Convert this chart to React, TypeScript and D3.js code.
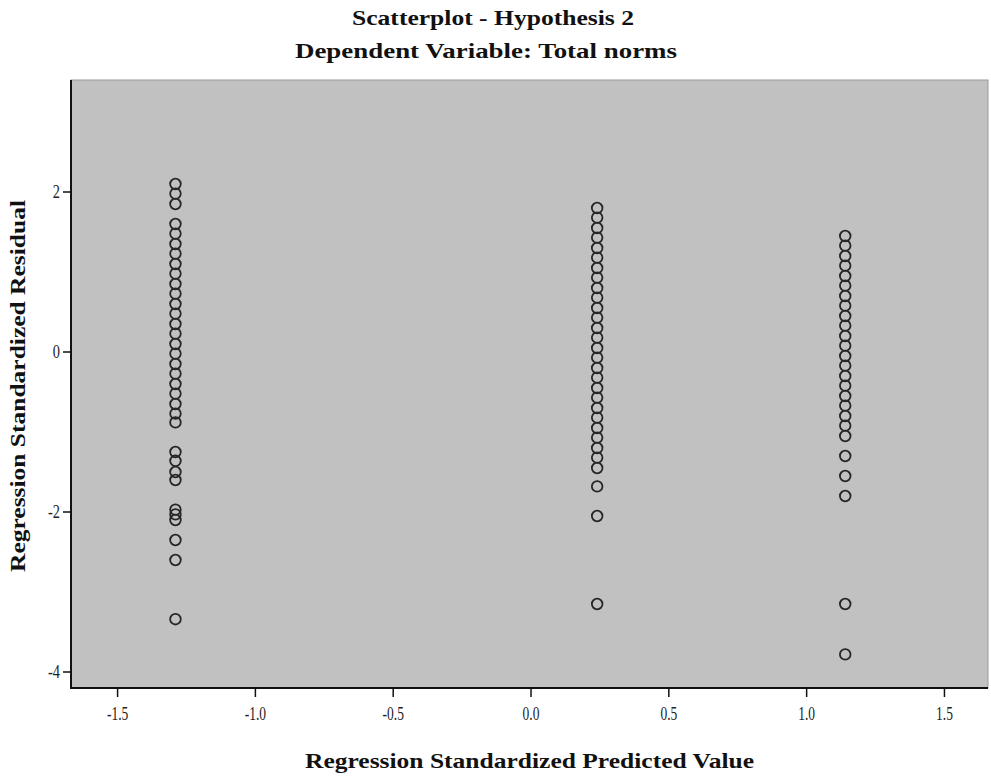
import React from "react";
import * as d3 from "d3";

const titleText = "Scatterplot - Hypothesis 2";
const subtitleText = "Dependent Variable: Total norms";
const xAxisTitle = "Regression Standardized Predicted Value";
const yAxisTitle = "Regression Standardized Residual";

const xTicks = [-1.5, -1.0, -0.5, 0.0, 0.5, 1.0, 1.5];
const yTicks = [-4, -2, 0, 2];

const predictedValues = [-1.29, 0.24, 1.14];

const leftResiduals = [
  2.1, 1.98, 1.85, 1.6, 1.48, 1.35, 1.23, 1.1, 0.98, 0.85, 0.73, 0.6, 0.48, 0.35,
  0.23, 0.1, -0.02, -0.15, -0.27, -0.4, -0.52, -0.65, -0.77, -0.88, -1.25, -1.36,
  -1.5, -1.6, -1.97, -2.03, -2.1, -2.35, -2.6, -3.34,
];
const middleResiduals = [
  1.8, 1.68, 1.55, 1.43, 1.3, 1.18, 1.05, 0.93, 0.8, 0.68, 0.55, 0.43, 0.3, 0.18,
  0.05, -0.07, -0.2, -0.32, -0.45, -0.57, -0.7, -0.82, -0.95, -1.07, -1.2, -1.32,
  -1.45, -1.68, -2.05, -3.15,
];
const rightResiduals = [
  1.45, 1.33, 1.2, 1.08, 0.95, 0.83, 0.7, 0.58, 0.45, 0.33, 0.2, 0.08, -0.05,
  -0.17, -0.3, -0.42, -0.55, -0.67, -0.8, -0.92, -1.05, -1.3, -1.55, -1.8, -3.15,
  -3.78,
];

const residualGroups = [leftResiduals, middleResiduals, rightResiduals];

const W = 991;
const H = 776;
const plot = { left: 71, right: 988, top: 80, bottom: 688 };

const hyphen = (s: string) => s.replace("\u2212", "-");

export default function App() {
  const x = d3.scaleLinear().domain([-1.669, 1.658]).range([plot.left, plot.right]);
  const y = d3.scaleLinear().domain([-4.2, 3.4]).range([plot.bottom, plot.top]);

  const points = residualGroups.flatMap((g, i) =>
    g.map((r) => ({ px: predictedValues[i], r }))
  );

  const serif = "'Liberation Serif', 'Times New Roman', serif";
  const fmtX = (t: number) => hyphen(d3.format(".1f")(t));
  const fmtY = (t: number) => hyphen(d3.format("d")(t));

  return (
    <svg
      width={W}
      height={H}
      style={{ position: "absolute", left: 0, top: 0, background: "#fff" }}
      fontFamily={serif}
    >
      <defs>
        <filter id="soft" x="-20%" y="-20%" width="140%" height="140%">
          <feGaussianBlur stdDeviation="0.45" />
        </filter>
      </defs>
      <rect x={0} y={0} width={W} height={H} fill="#fff" />
      <text
        x={493}
        y={25}
        textAnchor="middle"
        fontSize={22}
        fontWeight="bold"
        textLength={282}
        lengthAdjust="spacingAndGlyphs"
        fill="#111"
      >
        {titleText}
      </text>
      <text
        x={486}
        y={58}
        textAnchor="middle"
        fontSize={22}
        fontWeight="bold"
        textLength={382}
        lengthAdjust="spacingAndGlyphs"
        fill="#111"
      >
        {subtitleText}
      </text>

      <rect
        x={plot.left}
        y={plot.top}
        width={plot.right - plot.left}
        height={plot.bottom - plot.top}
        fill="#c1c1c1"
        stroke="#9a9a9a"
        strokeWidth={1}
      />

      <g filter="url(#soft)">
        {points.map((p, i) => (
          <circle
            key={i}
            cx={x(p.px)}
            cy={y(p.r)}
            r={5.3}
            fill="none"
            stroke="#262626"
            strokeWidth={1.8}
          />
        ))}
      </g>

      <line x1={plot.left} y1={plot.top} x2={plot.left} y2={plot.bottom + 1} stroke="#111" strokeWidth={2} />
      <line x1={plot.left - 1} y1={plot.bottom} x2={plot.right} y2={plot.bottom} stroke="#111" strokeWidth={2} />

      {yTicks.map((t) => (
        <g key={"y" + t}>
          <line x1={plot.left - 8} x2={plot.left} y1={y(t)} y2={y(t)} stroke="#111" strokeWidth={1.5} />
          <text
            transform={`translate(${plot.left - 11}, ${y(t) + 6}) scale(0.8, 1)`}
            textAnchor="end"
            fontSize={18}
            fill="#222"
          >
            {fmtY(t)}
          </text>
        </g>
      ))}

      {xTicks.map((t) => (
        <g key={"x" + t}>
          <line x1={x(t)} x2={x(t)} y1={plot.bottom} y2={plot.bottom + 9} stroke="#111" strokeWidth={1.5} />
          <text
            transform={`translate(${x(t)}, ${plot.bottom + 32}) scale(0.75, 1)`}
            textAnchor="middle"
            fontSize={18}
            fill="#222"
          >
            {fmtX(t)}
          </text>
        </g>
      ))}

      <text
        x={(plot.left + plot.right) / 2}
        y={768}
        textAnchor="middle"
        fontSize={22}
        fontWeight="bold"
        textLength={449}
        lengthAdjust="spacingAndGlyphs"
        fill="#111"
      >
        {xAxisTitle}
      </text>
      <text
        transform={`translate(25, ${(plot.top + plot.bottom) / 2 + 2}) rotate(-90)`}
        textAnchor="middle"
        fontSize={21}
        fontWeight="bold"
        textLength={372}
        lengthAdjust="spacingAndGlyphs"
        fill="#111"
      >
        {yAxisTitle}
      </text>
    </svg>
  );
}
